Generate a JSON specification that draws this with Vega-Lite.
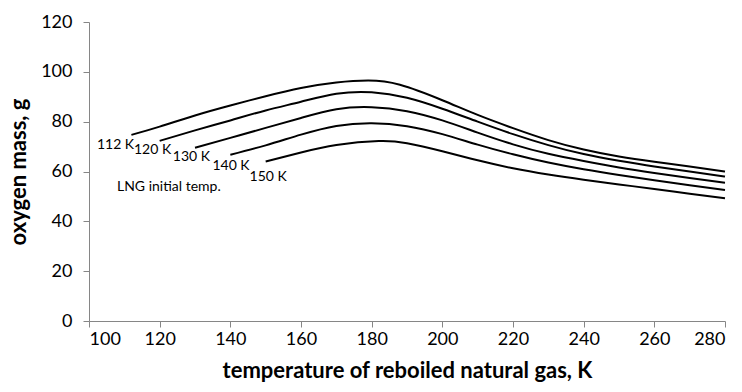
{
  "$schema": "https://vega.github.io/schema/vega-lite/v6.json",
  "width": 636,
  "height": 299,
  "autosize": {"type": "none"},
  "padding": {"left": 89, "top": 22, "right": 17, "bottom": 71},
  "background": "white",
  "config": {"view": {"stroke": null}, "font": "Lato"},
  "datasets": {
    "curves": [
      {"t": 112, "m": 74.7, "s": "112 K"}, {"t": 120, "m": 78, "s": "112 K"}, {"t": 130, "m": 82.5, "s": "112 K"}, {"t": 140, "m": 86.5, "s": "112 K"}, {"t": 150, "m": 90.2, "s": "112 K"}, {"t": 160, "m": 93.5, "s": "112 K"}, {"t": 170, "m": 95.7, "s": "112 K"}, {"t": 179, "m": 96.5, "s": "112 K"}, {"t": 188, "m": 94.8, "s": "112 K"}, {"t": 200, "m": 88.6, "s": "112 K"}, {"t": 210, "m": 82.7, "s": "112 K"}, {"t": 220, "m": 77.4, "s": "112 K"}, {"t": 230, "m": 72.6, "s": "112 K"}, {"t": 240, "m": 68.8, "s": "112 K"}, {"t": 250, "m": 66, "s": "112 K"}, {"t": 260, "m": 63.9, "s": "112 K"}, {"t": 270, "m": 62, "s": "112 K"}, {"t": 280, "m": 60, "s": "112 K"},
      {"t": 120, "m": 72.3, "s": "120 K"}, {"t": 130, "m": 76.5, "s": "120 K"}, {"t": 140, "m": 80.5, "s": "120 K"}, {"t": 150, "m": 84.5, "s": "120 K"}, {"t": 160, "m": 88, "s": "120 K"}, {"t": 170, "m": 91.2, "s": "120 K"}, {"t": 180, "m": 91.8, "s": "120 K"}, {"t": 190, "m": 89.6, "s": "120 K"}, {"t": 200, "m": 85.2, "s": "120 K"}, {"t": 210, "m": 80, "s": "120 K"}, {"t": 220, "m": 75, "s": "120 K"}, {"t": 230, "m": 70.6, "s": "120 K"}, {"t": 240, "m": 67, "s": "120 K"}, {"t": 250, "m": 64.3, "s": "120 K"}, {"t": 260, "m": 62, "s": "120 K"}, {"t": 270, "m": 60, "s": "120 K"}, {"t": 280, "m": 58, "s": "120 K"},
      {"t": 130, "m": 69.5, "s": "130 K"}, {"t": 140, "m": 73.5, "s": "130 K"}, {"t": 150, "m": 77.5, "s": "130 K"}, {"t": 160, "m": 81.5, "s": "130 K"}, {"t": 170, "m": 85, "s": "130 K"}, {"t": 180, "m": 85.8, "s": "130 K"}, {"t": 190, "m": 84.2, "s": "130 K"}, {"t": 200, "m": 80.5, "s": "130 K"}, {"t": 210, "m": 75.6, "s": "130 K"}, {"t": 220, "m": 70.9, "s": "130 K"}, {"t": 230, "m": 67.1, "s": "130 K"}, {"t": 240, "m": 64.2, "s": "130 K"}, {"t": 250, "m": 61.6, "s": "130 K"}, {"t": 260, "m": 59.4, "s": "130 K"}, {"t": 270, "m": 57.4, "s": "130 K"}, {"t": 280, "m": 55.5, "s": "130 K"},
      {"t": 140, "m": 66.7, "s": "140 K"}, {"t": 150, "m": 70.5, "s": "140 K"}, {"t": 160, "m": 74.8, "s": "140 K"}, {"t": 170, "m": 78.3, "s": "140 K"}, {"t": 180, "m": 79.4, "s": "140 K"}, {"t": 190, "m": 78.2, "s": "140 K"}, {"t": 200, "m": 75, "s": "140 K"}, {"t": 210, "m": 70.8, "s": "140 K"}, {"t": 220, "m": 66.9, "s": "140 K"}, {"t": 230, "m": 63.6, "s": "140 K"}, {"t": 240, "m": 60.9, "s": "140 K"}, {"t": 250, "m": 58.6, "s": "140 K"}, {"t": 260, "m": 56.5, "s": "140 K"}, {"t": 270, "m": 54.5, "s": "140 K"}, {"t": 280, "m": 52.6, "s": "140 K"},
      {"t": 150, "m": 64, "s": "150 K"}, {"t": 160, "m": 67.6, "s": "150 K"}, {"t": 170, "m": 70.6, "s": "150 K"}, {"t": 182, "m": 72.2, "s": "150 K"}, {"t": 190, "m": 71.3, "s": "150 K"}, {"t": 200, "m": 68.1, "s": "150 K"}, {"t": 210, "m": 64.5, "s": "150 K"}, {"t": 220, "m": 61.3, "s": "150 K"}, {"t": 230, "m": 58.8, "s": "150 K"}, {"t": 240, "m": 56.7, "s": "150 K"}, {"t": 250, "m": 54.8, "s": "150 K"}, {"t": 260, "m": 53, "s": "150 K"}, {"t": 270, "m": 51.1, "s": "150 K"}, {"t": 280, "m": 49.3, "s": "150 K"}
    ],
    "labels": [
      {"t": 107.5, "m": 70.5, "label": "112 K"},
      {"t": 118, "m": 68.5, "label": "120 K"},
      {"t": 129, "m": 66, "label": "130 K"},
      {"t": 140.2, "m": 62.2, "label": "140 K"},
      {"t": 150.7, "m": 57.8, "label": "150 K"},
      {"t": 122.6, "m": 53.8, "label": "LNG initial temp."}
    ]
  },
  "layer": [
    {
      "data": {"name": "curves"},
      "mark": {"type": "line", "interpolate": "natural", "color": "black", "strokeWidth": 2},
      "encoding": {
        "x": {
          "field": "t", "type": "quantitative",
          "scale": {"domain": [100, 280], "nice": false},
          "axis": {
            "title": "temperature of reboiled natural gas, K",
            "values": [100, 120, 140, 160, 180, 200, 220, 240, 260, 280],
            "grid": false, "domainColor": "#868686", "tickColor": "#868686", "tickSize": 6,
            "labelFontSize": 18, "labelColor": "black", "labelPadding": 3, "labelFont": "Lato",
            "titleFontSize": 22, "titleFontWeight": "bold", "titleColor": "black", "titlePadding": 12, "titleFont": "Lato"
          }
        },
        "y": {
          "field": "m", "type": "quantitative",
          "scale": {"domain": [0, 120], "nice": false},
          "axis": {
            "title": "oxygen mass, g",
            "values": [0, 20, 40, 60, 80, 100, 120],
            "grid": false, "domainColor": "#868686", "tickColor": "#868686", "tickSize": 6,
            "labelFontSize": 18, "labelColor": "black", "labelPadding": 11, "labelFont": "Lato",
            "titleFontSize": 22, "titleFontWeight": "bold", "titleColor": "black", "titlePadding": 10, "titleFont": "Lato"
          }
        },
        "detail": {"field": "s", "type": "nominal"}
      }
    },
    {
      "data": {"name": "labels"},
      "mark": {"type": "text", "fontSize": 14, "color": "black", "font": "Lato"},
      "encoding": {
        "x": {"field": "t", "type": "quantitative"},
        "y": {"field": "m", "type": "quantitative"},
        "text": {"field": "label", "type": "nominal"}
      }
    }
  ]
}
